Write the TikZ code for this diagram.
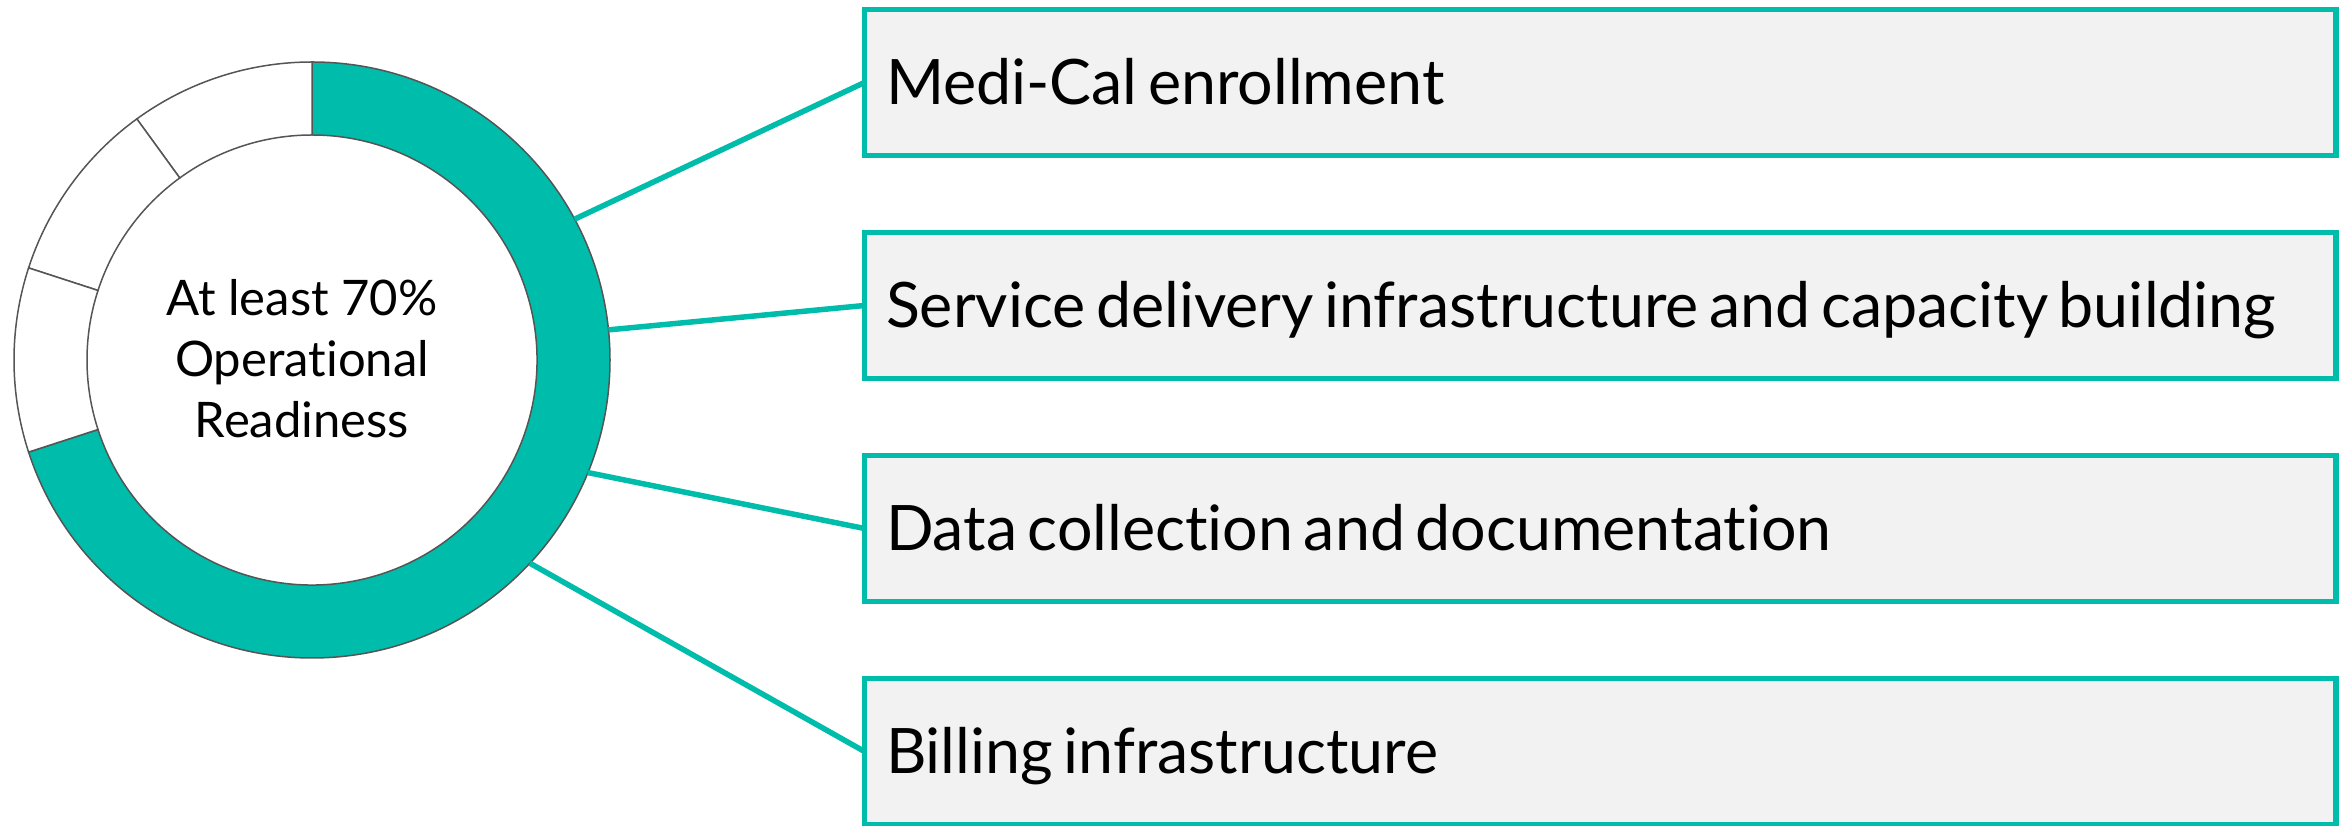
\documentclass[tikz,border=0pt]{standalone}
\usepackage{fontspec}
\setmainfont[Ligatures=NoCommon]{Lato}
\newfontfamily\boxfont[WordSpace=0.65,Ligatures=NoCommon]{Lato}
\definecolor{tealA}{RGB}{0,188,171}
\definecolor{boxgray}{RGB}{242,242,242}
\definecolor{ringline}{RGB}{85,85,85}
\newcommand{\boxtext}[1]{\makebox[1428.5pt][l]{#1}}
\begin{document}
\begin{tikzpicture}[x=1pt,y=1pt,
  seg/.style={draw=ringline,line width=1.5pt},
  itembox/.style={draw=tealA,fill=boxgray,line width=5.5pt,rectangle,anchor=west,outer sep=0pt,
    inner xsep=21.5pt,inner ysep=0pt,minimum width=1471.5pt,minimum height=146pt,
    text height=44.8pt,text depth=0pt,font=\boxfont\fontsize{62.7}{74}\selectfont},
  link/.style={draw=tealA,line width=5.5pt}]
\useasboundingbox (0,0) rectangle (2351,826);
\coordinate (c) at (312,466);
% ring
\path[seg,fill=tealA] ([shift={(90:298)}]c) arc[start angle=90,end angle=-162,radius=298]
  -- ([shift={(-162:225)}]c) arc[start angle=-162,end angle=90,radius=225] -- cycle;
\foreach \a/\b in {90/126,126/162,162/198}{
  \path[seg,fill=white] ([shift={(\a:298)}]c) arc[start angle=\a,end angle=\b,radius=298]
    -- ([shift={(\b:225)}]c) arc[start angle=\b,end angle=\a,radius=225] -- cycle;
}
\node[font=\fontsize{49}{61}\selectfont,align=center,inner sep=0pt] (ctr) at (302,467)
  {At least 70\%\\Operational\\Readiness};
% boxes
\node[itembox] (b1) at (864.5,743.5) {\boxtext{Medi-Cal enrollment}};
\node[itembox] (b2) at (864.5,520.5) {\boxtext{Service delivery infrastructure and capacity building}};
\node[itembox] (b3) at (864.5,297.5) {\boxtext{Data collection and documentation}};
\node[itembox] (b4) at (864.5,74.5) {\boxtext{Billing infrastructure}};
% connectors
\coordinate (p1) at ([shift={(28.2:298)}]c);
\coordinate (p2) at ([shift={(5.8:298)}]c);
\coordinate (p3) at ([shift={(-22.2:298)}]c);
\coordinate (p4) at ([shift={(-43:298)}]c);
\draw[link] (p1) -- (b1.west);
\draw[link] (p2) -- (b2.west);
\draw[link] (p3) -- (b3.west);
\draw[link] (p4) -- (b4.west);
\end{tikzpicture}
\end{document}
